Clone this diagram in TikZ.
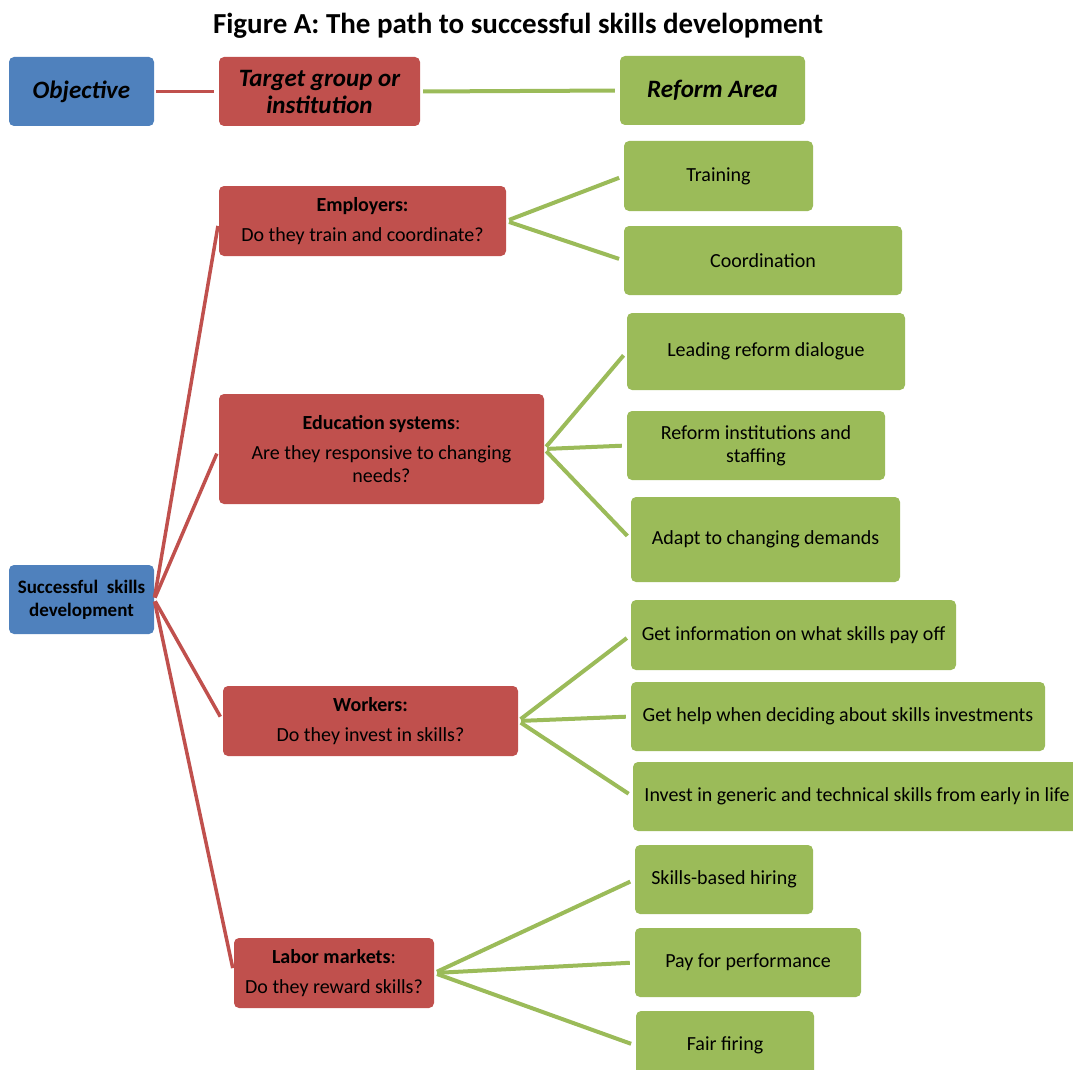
\documentclass[tikz,border=0pt]{standalone}
\usepackage{fontspec}
\setmainfont{Carlito}
\definecolor{blu}{HTML}{4F81BD}
\definecolor{rd}{HTML}{C0504D}
\definecolor{grn}{HTML}{9BBB59}
\tikzset{
  box/.style={rounded corners=5pt, inner sep=0pt, align=center, font=\fontsize{20}{23}\selectfont},
  objbox/.style={box, fill=blu},
  tgtbox/.style={box, fill=rd},
  refbox/.style={box, fill=grn},
  hdr/.style={font=\bfseries\itshape\fontsize{25}{27}\selectfont},
  rline/.style={draw=rd, line width=3.5pt, shorten <=2pt, shorten >=5pt},
  gline/.style={draw=grn, line width=4pt, shorten <=3pt, shorten >=5pt},
}
\begin{document}
\begin{tikzpicture}[x=1pt,y=-1pt]
\useasboundingbox (0,0) rectangle (1073,1070);
\clip (0,0) rectangle (1073,1070);
\node[font=\bfseries\fontsize{29}{32}\selectfont] (title) at (518,26) {Figure A: The path to successful skills development};
% header row
\node[objbox, hdr, minimum width=145pt, minimum height=69pt] (obj) at (81.5,91.5) {Objective};
\node[tgtbox, hdr, minimum width=201pt, minimum height=69pt] (tgt) at (319.5,91.5) {Target group or\\institution};
\node[refbox, hdr, minimum width=185pt, minimum height=69pt] (ref) at (712.5,90.5) {Reform Area};
% objective
\node[objbox, font=\fontsize{19}{23}\selectfont, minimum width=145pt, minimum height=69pt] (succ) at (81.5,599.5) {\bfseries Successful\ \ skills\\\bfseries development};
% targets
\node[tgtbox, minimum width=287pt, minimum height=70pt] (emp) at (362.5,221) {{\bfseries Employers:}\\[7pt]Do they train and coordinate?};
\node[tgtbox, minimum width=325pt, minimum height=110pt] (edu) at (381.5,449) {{\bfseries Education systems}:\\[7pt]Are they responsive to changing\\needs?};
\node[tgtbox, minimum width=295pt, minimum height=70pt] (wrk) at (370.5,721) {{\bfseries Workers:}\\[7pt]Do they invest in skills?};
\node[tgtbox, minimum width=200pt, minimum height=70pt] (lab) at (334,973) {{\bfseries Labor markets}:\\[7pt]Do they reward skills?};
% reform areas
\node[refbox, minimum width=189pt, minimum height=70pt] (train) at (718.5,176) {Training};
\node[refbox, minimum width=278pt, minimum height=69pt] (coord) at (763,260.5) {Coordination};
\node[refbox, minimum width=278pt, minimum height=77pt] (lead) at (766,351.5) {Leading reform dialogue};
\node[refbox, minimum width=258pt, minimum height=69pt] (inst) at (756,445.5) {Reform institutions and\\staffing};
\node[refbox, minimum width=269pt, minimum height=85pt] (adapt) at (765.5,539.5) {Adapt to changing demands};
\node[refbox, minimum width=325pt, minimum height=70pt] (info) at (793.5,635) {Get information on what skills pay off};
\node[refbox, minimum width=414pt, minimum height=69pt] (help) at (838,716.5) {Get help when deciding about skills investments};
\node[refbox, minimum width=448pt, minimum height=69pt] (inv) at (857,796.5) {Invest in generic and technical skills from early in life};
\node[refbox, minimum width=178pt, minimum height=69pt] (hire) at (724,879.5) {Skills-based hiring};
\node[refbox, minimum width=226pt, minimum height=69pt] (pay) at (748,962.5) {Pay for performance};
\node[refbox, minimum width=178pt, minimum height=69pt] (fire) at (725,1045.5) {Fair firing};
% connectors
\draw[rline] (obj.east) -- (tgt.west);
\draw[gline] (tgt.east) -- (ref.west);
\draw[rline] (succ.east) -- (emp.west);
\draw[rline] (succ.east) -- (edu.west);
\draw[rline] (succ.east) -- (wrk.west);
\draw[rline] (succ.east) -- (lab.west);
\draw[gline] (emp.east) -- (train.west);
\draw[gline] (emp.east) -- (coord.west);
\draw[gline] (edu.east) -- (lead.west);
\draw[gline] (edu.east) -- (inst.west);
\draw[gline] (edu.east) -- (adapt.west);
\draw[gline] (wrk.east) -- (info.west);
\draw[gline] (wrk.east) -- (help.west);
\draw[gline] (wrk.east) -- (inv.west);
\draw[gline] (lab.east) -- (hire.west);
\draw[gline] (lab.east) -- (pay.west);
\draw[gline] (lab.east) -- (fire.west);
\end{tikzpicture}
\end{document}
